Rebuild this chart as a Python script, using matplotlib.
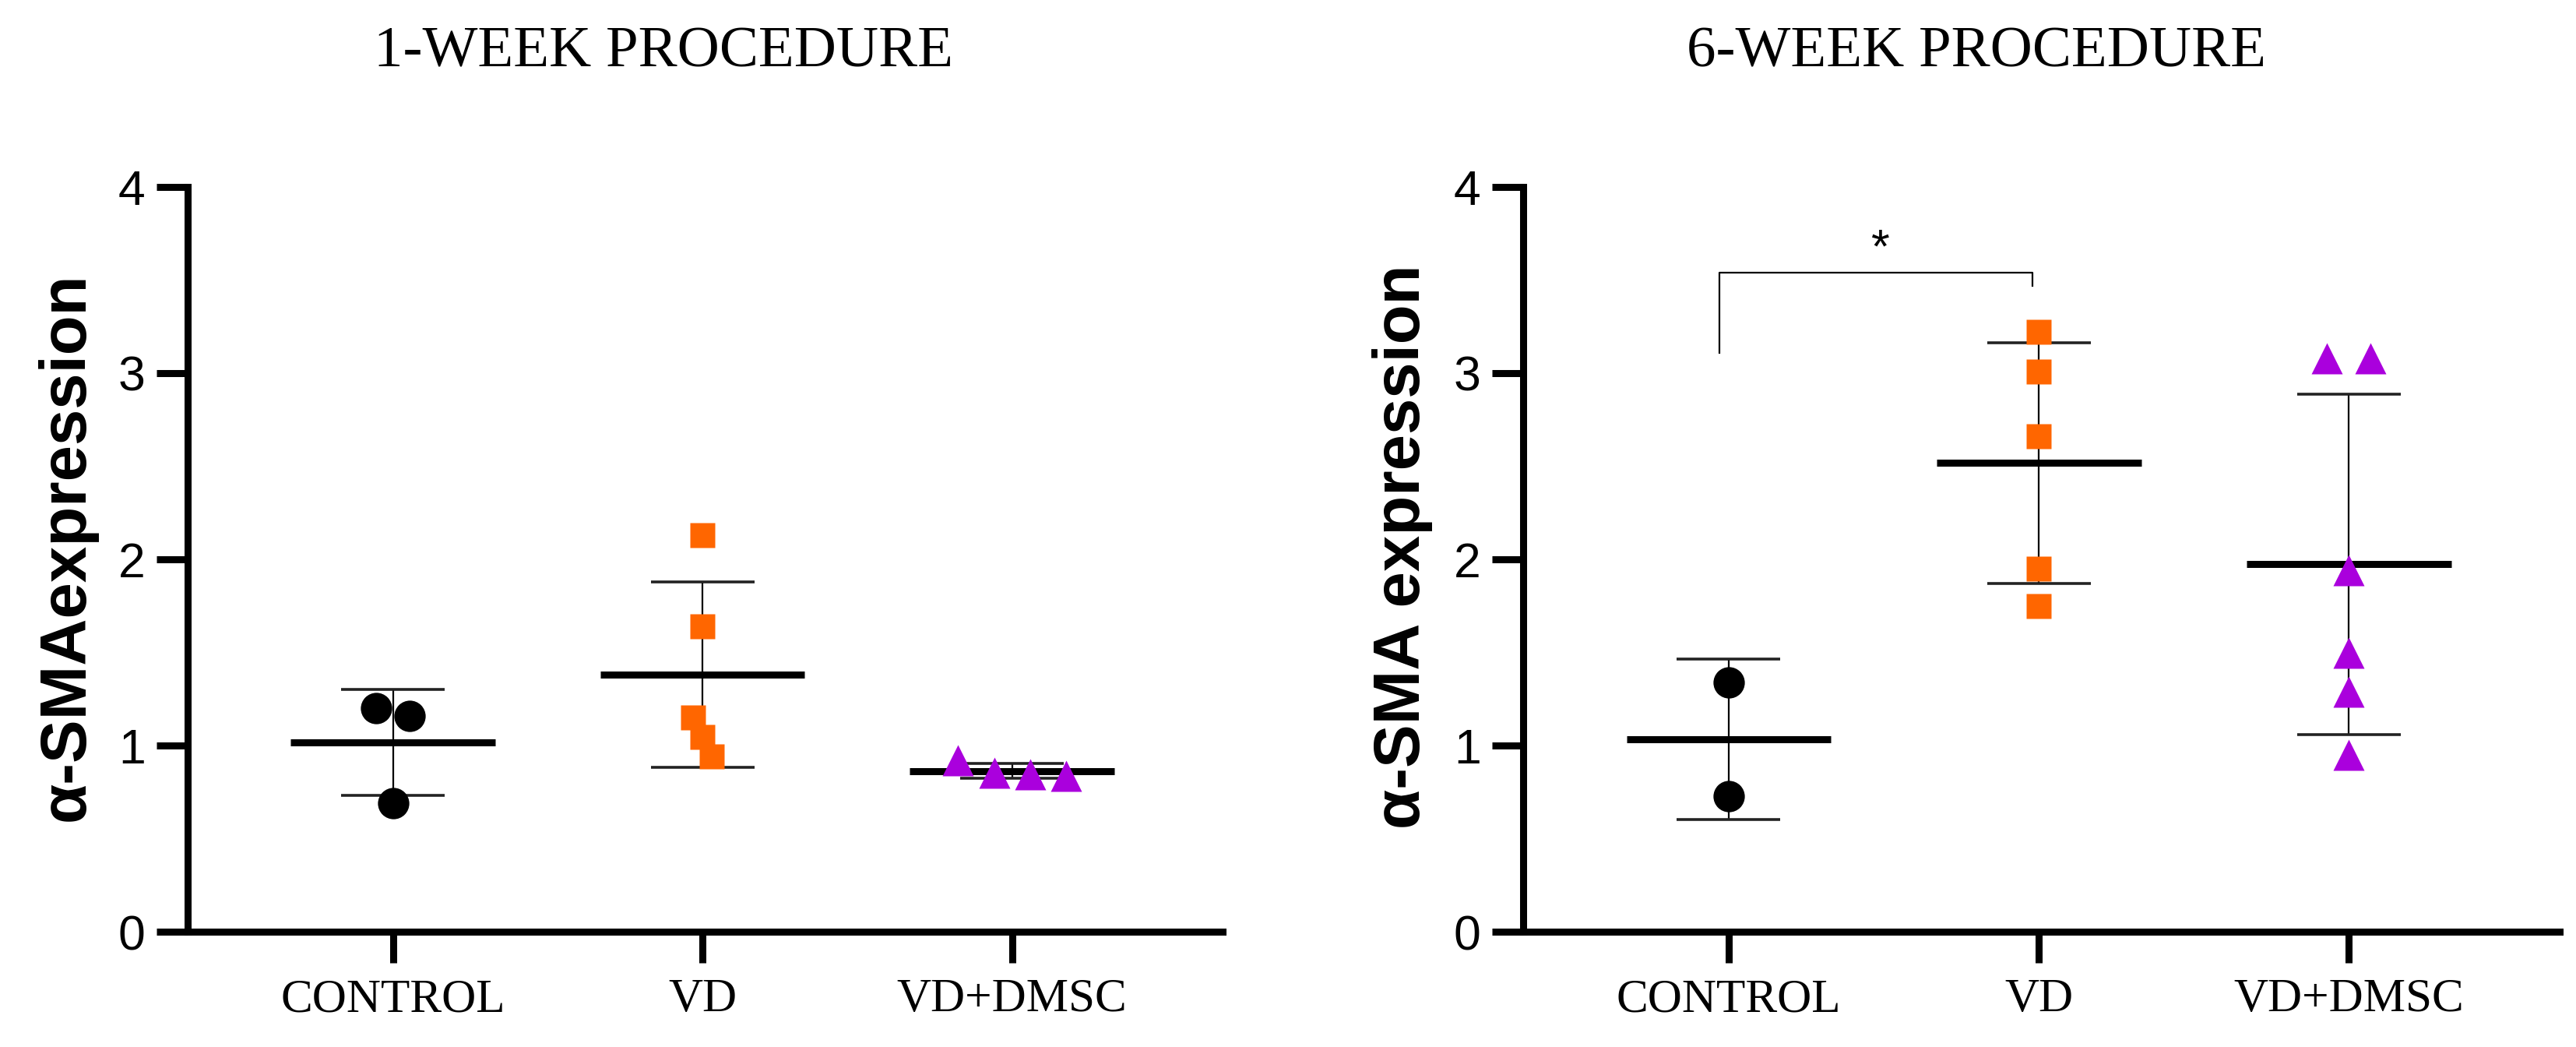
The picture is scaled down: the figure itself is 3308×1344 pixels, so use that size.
import numpy as np
import matplotlib.pyplot as plt

# values
groups = ["CONTROL", "VD", "VD+DMSC"]
week1_control = [1.20, 1.16, 0.69]
week1_vd = [2.13, 1.64, 1.15, 1.045, 0.94]
week1_dmsc = [0.92, 0.855, 0.845, 0.835]
week6_control = [1.34, 0.73]
week6_vd = [3.22, 3.01, 2.66, 1.95, 1.75]
week6_dmsc = [3.08, 3.08, 1.94, 1.50, 1.29, 0.95]
yticks = [0, 1, 2, 3, 4]

markers = ['o', 's', '^']
colors = ['black', '#FF6600', '#AA00DD']
msizes = [29, 23, 29]

W, H = 3308, 1344


def spread(vals, tol, base=0.14):
    # points closer than one marker height go side by side,
    # the more they overlap the wider they are spread
    vals = np.asarray(vals)
    order = np.argsort(-vals, kind='stable')
    offs = np.zeros(len(vals))
    rows = []
    cur = [order[0]]
    for i in order[1:]:
        if vals[cur[-1]] - vals[i] < tol:
            cur.append(i)
        else:
            rows.append(cur)
            cur = [i]
    rows.append(cur)
    for r in rows:
        n = len(r)
        if n < 2:
            continue
        gap = np.mean(-np.diff(vals[r]))
        step = base * (1 - gap / tol)
        for j, i in enumerate(r):
            offs[i] = (j - (n - 1) / 2) * step
    return offs


def panel(ax, data):
    for i, vals in enumerate(data):
        x = i + 1
        v = np.array(vals)
        m = v.mean()
        sd = v.std(ddof=1)
        ax.vlines(x, m - sd, m + sd, color='black', lw=1.6, zorder=2)
        ax.hlines([m - sd, m + sd], x - 0.167, x + 0.167, color='#222222', lw=2.6, zorder=2)
        ax.hlines(m, x - 0.33, x + 0.33, color='black', lw=6.5, zorder=2)
        # marker height in data units (axis is 956 px for 4 units)
        tol = msizes[i] * 1.389 / 239 * (1.0 if markers[i] != 's' else 1.0)
        ax.plot(x + spread(v, tol), v, linestyle='none', marker=markers[i], ms=msizes[i],
                color=colors[i], mec='none', zorder=3, clip_on=False)

    ax.set_xlim(0.337, 3.68)
    ax.set_ylim(0, 4)
    for s in ['top', 'right']:
        ax.spines[s].set_visible(False)
    for s in ['left', 'bottom']:
        ax.spines[s].set_linewidth(6.5)
    ax.tick_params(axis='both', length=29, width=6.5, direction='out')
    ax.tick_params(axis='y', pad=10)
    ax.tick_params(axis='x', pad=14)
    ax.set_yticks(yticks)
    ax.set_yticklabels([str(t) for t in yticks], fontfamily='Liberation Sans', fontsize=45)
    ax.set_xticks([1, 2, 3])
    ax.set_xticklabels(groups, fontfamily='Liberation Serif', fontsize=44)


fig = plt.figure(figsize=(W / 100, H / 100), dpi=100)

ax1 = fig.add_axes([241 / W, 148 / H, (1570 - 241) / W, (1196 - 240) / H])
ax2 = fig.add_axes([1956 / W, 148 / H, (3287 - 1956) / W, (1196 - 240) / H])

panel(ax1, [week1_control, week1_vd, week1_dmsc])
panel(ax2, [week6_control, week6_vd, week6_dmsc])

# significance bracket CONTROL vs VD (6 weeks)
ax2.plot([0.97, 0.97, 1.98, 1.98], [3.11, 3.54, 3.54, 3.47], color='black', lw=1.6)
ax2.text(1.49, 3.66, '*', ha='center', va='center', fontsize=44, family='Liberation Sans')

fig.text(852 / W, 1 - 86 / H, "1-WEEK PROCEDURE", ha='center', va='baseline',
         fontsize=54, family='Liberation Serif')
fig.text(2538 / W, 1 - 86 / H, "6-WEEK PROCEDURE", ha='center', va='baseline',
         fontsize=54, family='Liberation Serif')

fig.text(86 / W, 1 - 702 / H, "α-SMAexpression", rotation=90, ha='center', va='center',
         fontsize=60, fontweight='bold', family='Liberation Sans')
fig.text(1801 / W, 1 - 702 / H, "α-SMA expression", rotation=90, ha='center', va='center',
         fontsize=60, fontweight='bold', family='Liberation Sans')

fig.savefig('out.png', dpi=100)
